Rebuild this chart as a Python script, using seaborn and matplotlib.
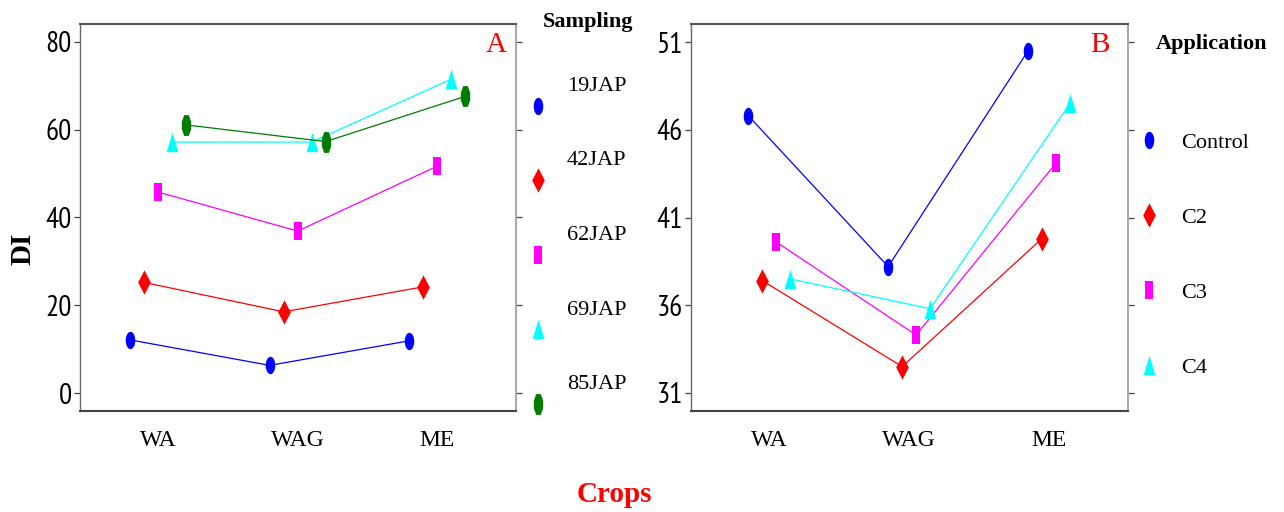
import numpy as np
import pandas as pd
import matplotlib
matplotlib.use("Agg")
import matplotlib.pyplot as plt
from matplotlib.markers import MarkerStyle
from matplotlib.lines import Line2D
import seaborn as sns

# data
crops = ["WA", "WAG", "ME"]

sampling = ["19JAP", "42JAP", "62JAP", "69JAP", "85JAP"]
di_19jap = [12.1, 6.3, 11.9]
di_42jap = [25.2, 18.5, 24.2]
di_62jap = [45.8, 36.9, 51.7]
di_69jap = [57.2, 57.2, 71.5]
di_85jap = [61.1, 57.3, 67.6]

application = ["Control", "C2", "C3", "C4"]
di_control = [46.8, 38.2, 50.5]
di_c2 = [37.4, 32.5, 39.8]
di_c3 = [39.6, 34.3, 44.1]
di_c4 = [37.5, 35.8, 47.5]

yticks_a = [0, 20, 40, 60, 80]
yticks_b = [31, 36, 41, 46, 51]

colors_a = ["#0000ff", "#ff0000", "#ff00ff", "#00ffff", "#007d00"]
colors_b = colors_a[:4]

# marker shapes (tall, like the R output)
t = np.linspace(0, 2 * np.pi, 41)
ellipse = MarkerStyle(np.c_[0.55 * np.sin(t), np.cos(t)])
diamond = MarkerStyle(np.array([[0, 1], [0.52, 0], [0, -1], [-0.52, 0], [0, 1]]))
rect = MarkerStyle(np.array([[-0.47, -1], [0.47, -1], [0.47, 1], [-0.47, 1], [-0.47, -1]]))
tri = MarkerStyle(np.array([[0, 1], [0.6, -1], [-0.6, -1], [0, 1]]))
hexa = MarkerStyle(np.array([[-0.22, 1], [0.22, 1], [0.45, 0.35], [0.45, -0.35],
                             [0.22, -1], [-0.22, -1], [-0.45, -0.35], [-0.45, 0.35], [-0.22, 1]]))
markers_a = [ellipse, diamond, rect, tri, hexa]
markers_b = markers_a[:4]
sizes_a = [12.5, 17.5, 12.5, 14, 15]
sizes_b = sizes_a[:4]

df_a = pd.DataFrame({
    "crop": crops * 5,
    "DI": di_19jap + di_42jap + di_62jap + di_69jap + di_85jap,
    "group": np.repeat(sampling, 3),
})
df_b = pd.DataFrame({
    "crop": crops * 4,
    "DI": di_control + di_c2 + di_c3 + di_c4,
    "group": np.repeat(application, 3),
})

sns.set_style("white")
plt.rcParams["font.family"] = ["Liberation Serif", "DejaVu Serif"]
plt.rcParams["text.color"] = "black"
plt.rcParams["xtick.color"] = "black"
plt.rcParams["ytick.color"] = "black"

fig = plt.figure(figsize=(12.84, 5.12), dpi=100)
ax_a = fig.add_axes([80 / 1284, 101 / 512, 436 / 1284, 387 / 512])
ax_b = fig.add_axes([691 / 1284, 101 / 512, 437 / 1284, 387 / 512])

panels = [
    (ax_a, df_a, sampling, colors_a, markers_a, sizes_a, 0.4, (-4.1, 84.1), yticks_a, "A"),
    (ax_b, df_b, application, colors_b, markers_b, sizes_b, 0.3, (29.97, 52.03), yticks_b, "B"),
]

for ax, df, levels, cols, mks, sizes, dodge, ylim, yticks, tag in panels:
    sns.pointplot(data=df, x="crop", y="DI", hue="group", order=crops,
                  hue_order=levels, palette=cols, markers=mks, linestyles="-",
                  dodge=dodge, errorbar=None, legend=False, ax=ax,
                  linewidth=0.9, markersize=12, markeredgewidth=0)
    for line, s in zip(ax.lines, sizes):
        line.set_markersize(s)
        line.set_markeredgewidth(0)
    ax.set_xlim(-0.56, 2.565)
    ax.set_ylim(*ylim)
    ax.set_yticks(yticks)
    ax.set_xlabel("")
    ax.set_ylabel("")
    ax.tick_params(axis="x", length=0, pad=14, labelsize=17)
    ax.tick_params(axis="y", left=True, right=True, length=4, width=0.9,
                   color="#444444", pad=2, labelsize=21)
    for lbl in ax.get_yticklabels():
        lbl.set_fontfamily(["PT Sans Narrow", "DejaVu Sans"])
    ax.spines["left"].set_color("#666666")
    ax.spines["left"].set_linewidth(1.0)
    ax.spines["bottom"].set_color("#444444")
    ax.spines["bottom"].set_linewidth(1.5)
    ax.spines["top"].set_color("#555555")
    ax.spines["top"].set_linewidth(1.5)
    ax.spines["right"].set_color("#aaaaaa")
    ax.spines["right"].set_linewidth(1.5)
    ax.text(0.955 if tag == "A" else 0.936, 0.946, tag, transform=ax.transAxes,
            color="red", fontsize=21, ha="center", va="center")

# legends
handles_a = [Line2D([], [], linestyle="none", marker=m, markersize=s, color=c, markeredgewidth=0)
             for m, s, c in zip(markers_a, sizes_a, colors_a)]
leg_a = fig.legend(handles_a, [s + "\n " for s in sampling], loc="center left",
                   bbox_to_anchor=(527 / 1284, 1 - 255.5 / 512), frameon=False,
                   borderpad=0, borderaxespad=0, handlelength=1.0, handletextpad=0.8,
                   labelspacing=0.7, fontsize=16)
for txt in leg_a.get_texts():
    txt.set_linespacing(2.5)

handles_b = [Line2D([], [], linestyle="none", marker=m, markersize=s, color=c, markeredgewidth=0)
             for m, s, c in zip(markers_b, sizes_b, colors_b)]
fig.legend(handles_b, application, loc="center left",
           bbox_to_anchor=(1138 / 1284, 1 - 255 / 512), frameon=False,
           borderpad=0, borderaxespad=0, handlelength=1.0, handletextpad=0.95,
           labelspacing=2.45, fontsize=16)

fig.text(588 / 1284, 1 - 22 / 512, "Sampling", fontsize=16, fontweight="bold",
         ha="center", va="center")
fig.text(1212 / 1284, 1 - 44 / 512, "Application", fontsize=16, fontweight="bold",
         ha="center", va="center")
fig.text(22.5 / 1284, 1 - 249 / 512, "DI", fontsize=21, fontweight="bold",
         rotation=90, ha="center", va="center")
fig.text(614 / 1284, 1 - 495 / 512, "Crops", fontsize=21, fontweight="bold",
         color="red", ha="center", va="center")

fig.savefig("out.png", dpi=100)
